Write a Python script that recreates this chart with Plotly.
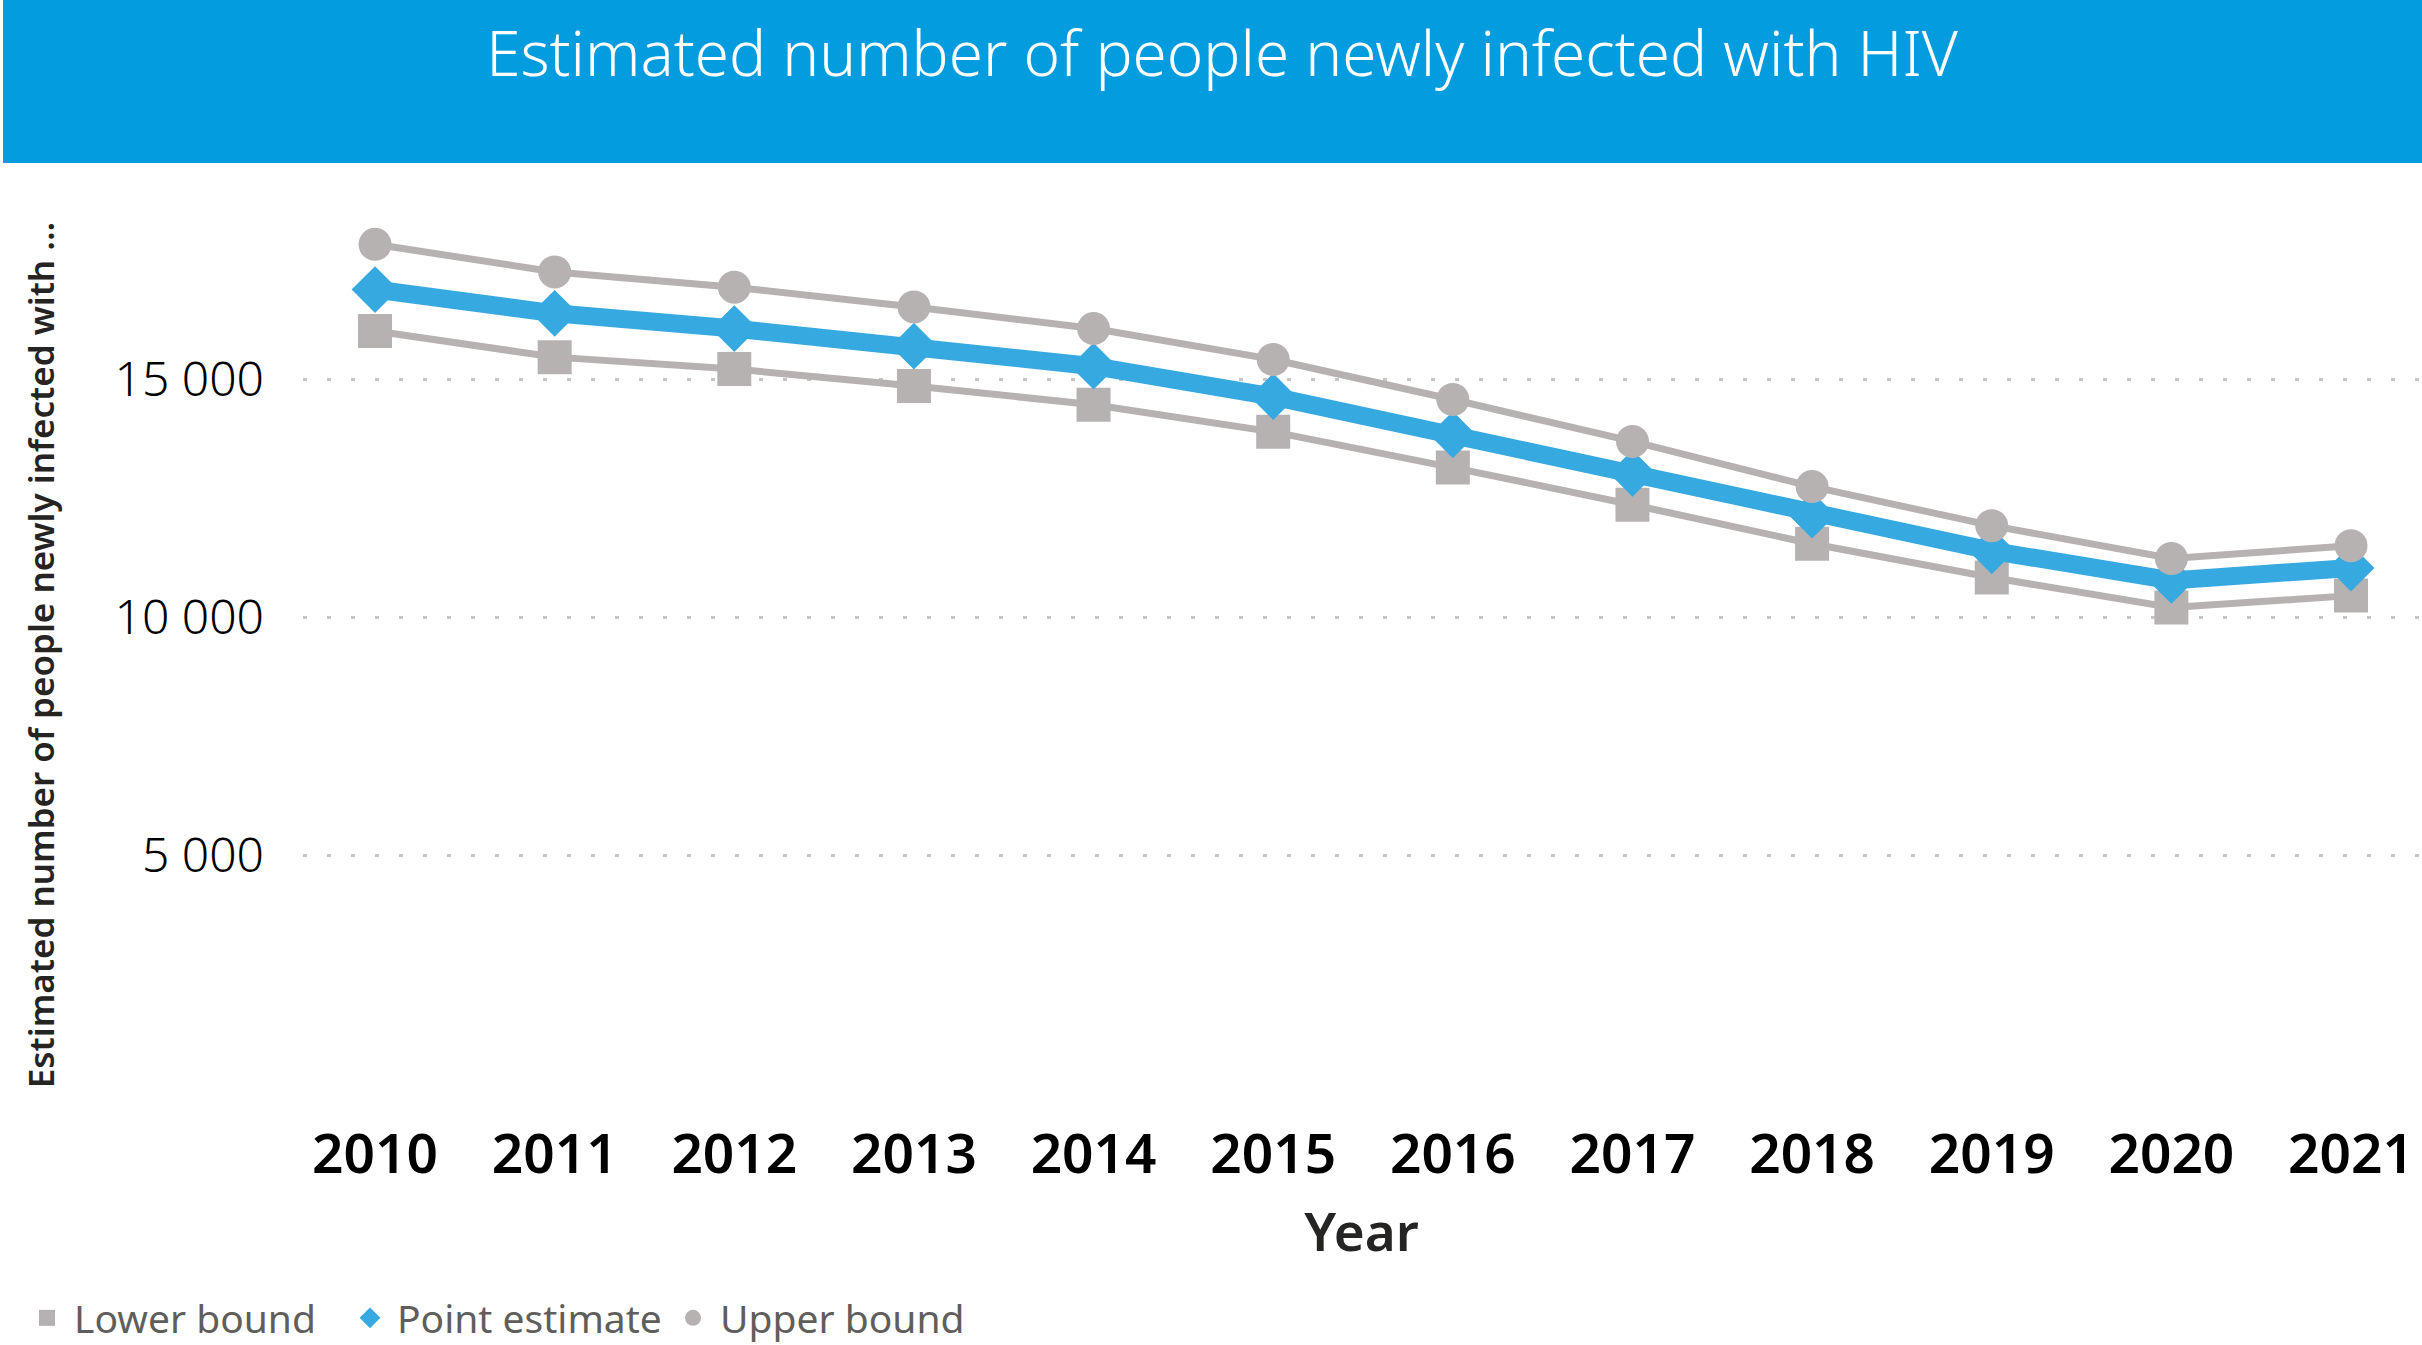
import plotly.graph_objects as go

years = [2010, 2011, 2012, 2013, 2014, 2015, 2016, 2017, 2018, 2019, 2020, 2021]
lower_bound = [16020, 15470, 15220, 14865, 14470, 13900, 13150, 12370, 11550, 10840, 10210, 10460]
point_estimate = [16890, 16390, 16070, 15700, 15280, 14640, 13840, 13030, 12150, 11400, 10780, 11040]
upper_bound = [17840, 17260, 16940, 16525, 16070, 15420, 14580, 13700, 12750, 11930, 11240, 11510]
y_tick_vals = [0, 5000, 10000, 15000]
y_tick_text = ["", "5 000", "10 000", "15 000"]

title_text = "Estimated number of people newly infected with HIV"
y_title = "Estimated number of people newly infected with ..."
x_title = "Year"

GRAY = "#B7B2B2"
BLUE = "#36A9E1"
FONT = "Noto Sans, Open Sans, sans-serif"

fig = go.Figure()

series = [
    ("Lower bound", lower_bound, GRAY, "square", 34, 7),
    ("Point estimate", point_estimate, BLUE, "diamond", 36, 18),
    ("Upper bound", upper_bound, GRAY, "circle", 33, 7),
]

for name, vals, color, sym, msize, lw in series:
    fig.add_trace(go.Scatter(
        x=years, y=vals, name=name, mode="lines+markers",
        line=dict(color=color, width=lw),
        marker=dict(symbol=sym, size=msize, color=color, line=dict(width=0)),
        showlegend=False, hoverinfo="x+y+name",
    ))

for name, vals, color, sym, msize, lw in series:
    fig.add_trace(go.Scatter(
        x=[None], y=[None], name=name, mode="markers",
        marker=dict(symbol=sym, size=16, color=color),
        showlegend=True,
    ))

W, H = 2422, 1345
L, R, T, B = 303, 2, 216, 251
plot_w = W - L - R
plot_h = H - T - B

fig.update_layout(
    width=W, height=H,
    margin=dict(l=L, r=R, t=T, b=B),
    paper_bgcolor="white", plot_bgcolor="white",
    font=dict(family=FONT, color="#000000"),
    title=dict(
        text=title_text, x=1222 / W, xanchor="center", xref="container",
        y=1 - 54 / H, yanchor="middle", yref="container",
        font=dict(family=FONT, size=62, color="white", weight=300),
    ),
    shapes=[dict(
        type="rect", xref="paper", yref="paper", layer="below",
        x0=(3 - L) / plot_w, x1=(W - L) / plot_w,
        y0=(H - B - 163) / plot_h, y1=(H - B) / plot_h,
        fillcolor="#039CDE", line=dict(width=0),
    )],
    legend=dict(
        orientation="h", xref="container", yref="container",
        x=20 / W, xanchor="left", y=27 / H, yanchor="middle",
        font=dict(family=FONT, size=39, color="#605E5C"),
        itemwidth=44, entrywidth=264, entrywidthmode="pixels",
        bgcolor="rgba(0,0,0,0)",
    ),
    xaxis=dict(
        range=[2009.599, 2021.384], tickmode="array", tickvals=years,
        ticktext=[str(y) for y in years], showgrid=False, zeroline=False,
        showline=False, ticks="",
        tickfont=dict(family=FONT, size=55, color="#000000", weight=600),
        ticklabelstandoff=23,
        title=dict(text=x_title, standoff=25,
                   font=dict(family=FONT, size=53, color="#252423", weight=600)),
    ),
    yaxis=dict(
        range=[-10, 18435], tickmode="array", tickvals=y_tick_vals,
        ticktext=y_tick_text, showgrid=True, gridcolor="#C8C6C4",
        gridwidth=3, griddash="4px,20px", zeroline=False, showline=False,
        ticks="", ticklabelstandoff=38,
        tickfont=dict(family=FONT, size=48, color="#000000", weight=300),
        title=dict(text=y_title, standoff=49,
                   font=dict(family=FONT, size=35, color="#252423", weight=600)),
    ),
)

fig.write_html(
    "out.html",
    config={"displayModeBar": False},
    post_script="document.body.style.margin='0';document.body.style.overflow='hidden';",
)
